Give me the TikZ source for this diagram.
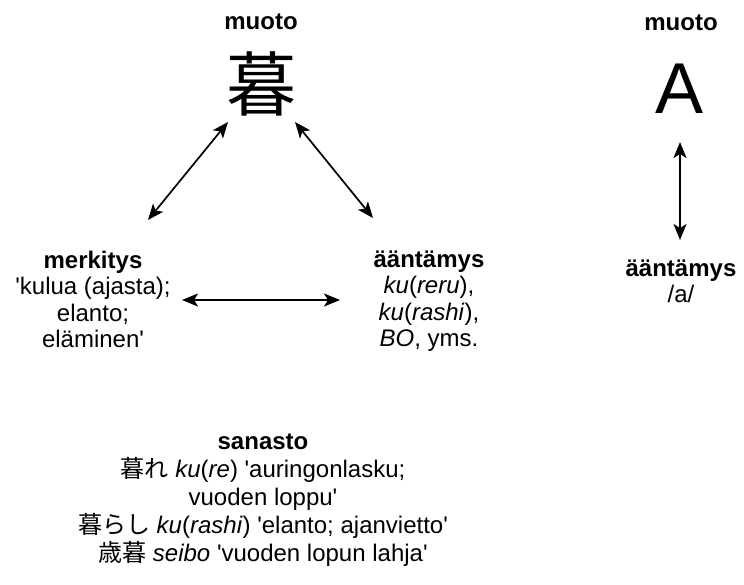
\documentclass[tikz,border=0pt]{standalone}
\usepackage{fontspec}
\setmainfont{Liberation Sans}
\newfontfamily\cjk{Noto Sans CJK JP}
\usetikzlibrary{arrows.meta}
\newcommand\sq{\textquotesingle}
\begin{document}
\begin{tikzpicture}[x=1pt,y=-1pt,
  lbl/.style={font=\fontsize{24}{26.5}\selectfont, align=center, inner sep=0pt, anchor=north},
  voc/.style={font=\fontsize{24}{28}\selectfont, align=center, inner sep=0pt, anchor=north},
  big/.style={inner sep=0pt, anchor=base},
  conn/.style={{Stealth[length=16pt,width=13pt,inset=4pt]}-{Stealth[length=16pt,width=13pt,inset=4pt]}, line width=1.7pt}]
\useasboundingbox (0,0) rectangle (744,584);
% left triangle
\node[lbl] (muotoL) at (261,14) {\textbf{muoto}};
\node[big, font=\fontsize{70}{70}\selectfont\cjk] (kanji) at (261,110) {暮};
\node[lbl] (merk) at (93,250.5) {\textbf{merkitys}\\\sq kulua (ajasta);\\elanto;\\eläminen\sq};
\node[lbl] (aant) at (429,250.5) {\textbf{ääntämys}\\\textit{ku}(\textit{reru}),\\\textit{ku}(\textit{rashi}),\\\textit{BO}, yms.};
\coordinate (kL) at (228,122);
\coordinate (mT) at (148,220);
\coordinate (kR) at (295,122);
\coordinate (aT) at (373,218);
\coordinate (mR) at (182,300);
\coordinate (aL) at (340,300);
\draw[conn] (mT) -- (kL);
\draw[conn] (kR) -- (aT);
\draw[conn] (mR) -- (aL);
% right pair
\node[lbl] (muotoR) at (681,15) {\textbf{muoto}};
\node[big, font=\fontsize{72}{72}\selectfont] (A) at (680,113) {A};
\node[lbl] (aantR) at (681,259.5) {\textbf{ääntämys}\\/a/};
\coordinate (AT) at (680,142);
\coordinate (AB) at (680,240);
\draw[conn] (AT) -- (AB);
% vocabulary
\node[voc] (sanasto) at (263,433.5) {\textbf{sanasto}\\{\cjk 暮れ} \textit{ku}(\textit{re}) \sq auringonlasku;\\vuoden loppu\sq\\{\cjk 暮らし} \textit{ku}(\textit{rashi}) \sq elanto; ajanvietto\sq\\{\cjk 歳暮} \textit{seibo} \sq vuoden lopun lahja\sq};
\end{tikzpicture}
\end{document}
